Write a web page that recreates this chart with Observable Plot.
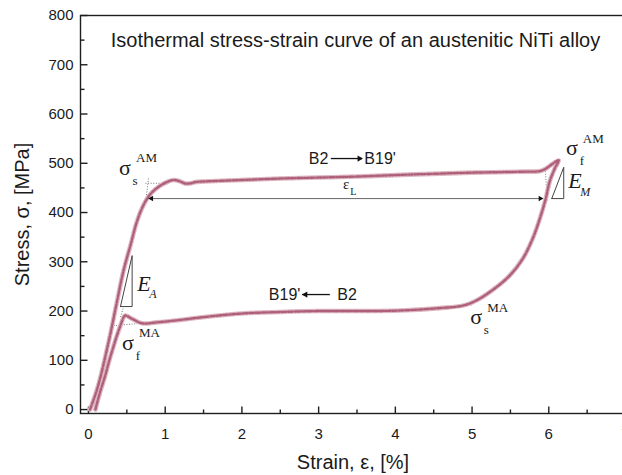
<!DOCTYPE html>
<html><head><meta charset="utf-8">
<script src="https://cdn.jsdelivr.net/npm/d3@7"></script>
<script src="https://cdn.jsdelivr.net/npm/@observablehq/plot@0.6"></script>
<style>
html,body{margin:0;padding:0;background:#fff;overflow:hidden;}
#chart{width:622px;height:475px;overflow:hidden;}
#chart svg{max-width:none !important;width:630px !important;height:475px !important;}
</style></head><body><div id="chart"></div>
<script>
// ---- data ----
const strainLoad = [0.02,0.10,0.16,0.23,0.29,0.37,0.46,0.55,0.63,0.72,0.81,0.94,1.04,1.11,1.18,1.26,1.32,1.40,1.50,2.0,2.5,3.0,3.5,4.0,4.58,5.0,5.36,5.70,5.88,5.96,6.05,6.13];
const stressLoad = [0,35,68,115,157,218,284,335,381,416,438,455,463,466,464,459,459,462,463,466,469,471,473,476,479,481,482,483,484,489,499,506];
const strainUnload = [6.08,6.01,5.96,5.88,5.79,5.66,5.49,5.27,5.05,4.88,4.58,4.06,3.5,3.0,2.5,2.0,1.46,1.20,0.89,0.70,0.57,0.48,0.46,0.42,0.37,0.33,0.27,0.22,0.15,0.09];
const stressUnload = [490,462,428,386,347,306,272,243,221,211,206,201,200,200,198,195,187,182,177,175,184,191,188,172,150,130,99,70,35,0];

const xTicks = [0,1,2,3,4,5,6,7];
const xMinorTicks = [0.5,1.5,2.5,3.5,4.5,5.5,6.5];
const yTicks = [0,100,200,300,400,500,600,700,800];
const yMinorTicks = [50,150,250,350,450,550,650,750];

const titleText = "Isothermal stress-strain curve of an austenitic NiTi alloy";
const xTitle = "Strain, ε, [%]";
const yTitle = "Stress, σ, [MPa]";

// sigma annotations (anchor of σ glyph)
const sigmaX = [0.476, 6.30, 0.515, 5.055];
const sigmaY = [491, 531, 136, 188];
const sigmaSub = ["s","f","f","s"];
const sigmaSup = ["AM","AM","MA","MA"];

// modulus labels
const modX = [0.635, 6.254];
const modY = [256, 464];
const modSub = ["A","M"];
// modulus triangles
const eaTriX = [0.417,0.569,0.569,0.417];
const eaTriY = [209.1,209.1,312.6,209.1];
const emTriX = [6.039,6.195,6.195,6.039];
const emTriY = [428.3,428.3,491.9,428.3];

// transformation labels
const phaseUpY = 509.6;
const phaseDownY = 233.5;
const upLeftText = "B2", upRightText = "B19'";
const upLeftEnd = 3.127, upArrowFrom = 3.166, upArrowTo = 3.57, upRightStart = 3.596;
const downLeftText = "B19'", downRightText = "B2";
const downLeftEnd = 2.762, downArrowFrom = 3.153, downArrowTo = 2.79, downRightStart = 3.244;

// transformation strain arrow
const epsLStrain = [0.782, 5.928];
const epsLStress = 428.3;
const epsLLabelX = 3.36, epsLLabelY = 456.7;

// dotted tangent constructions
const dotX1 = [0.743, 0.782, 5.954, 0.326, 0.42, 4.82];
const dotY1 = [459.4, 469, 489.2, 170.5, 188, 207.7];
const dotX2 = [1.029, 0.743, 5.98, 0.704, 0.45, 5.016];
const dotY2 = [459.4, 418, 424.3, 175.2, 205, 213.2];

// ---- scales ----
const xDomain = [-0.104, 7.0];
const yDomain = [-8, 800];
const W = 630, H = 475, mL = 80, mR = 5, mT = 15, mB = 62;
const pxX = (xDomain[1]-xDomain[0])/(W-mL-mR);
const pxY = (yDomain[1]-yDomain[0])/(H-mT-mB);

// ---- build tables ----
const loop = strainLoad.map((e,i)=>({strain:e, stress:stressLoad[i]}))
  .concat(strainUnload.map((e,i)=>({strain:e, stress:stressUnload[i]})));
const sigmas = sigmaX.map((x,i)=>({x, y:sigmaY[i], sub:sigmaSub[i], sup:sigmaSup[i]}));
const mods = modX.map((x,i)=>({x, y:modY[i], sub:modSub[i]}));
const eaTri = eaTriX.map((x,i)=>({x, y:eaTriY[i]}));
const emTri = emTriX.map((x,i)=>({x, y:emTriY[i]}));
const dots = dotX1.map((x,i)=>({x1:x, y1:dotY1[i], x2:dotX2[i], y2:dotY2[i]}));
// inward tick segments
const xTickSeg = xTicks.map(v=>({v, len:7})).concat(xMinorTicks.map(v=>({v, len:4})));
const yTickSeg = yTicks.map(v=>({v, len:7})).concat(yMinorTicks.map(v=>({v, len:4})));

const serif = "'Liberation Serif', 'Times New Roman', serif";
const sans = "'Liberation Sans', Arial, sans-serif";
const ink = "#1a1a1a";
const axisInk = "#1e1e1e";

const chart = Plot.plot({
  width: W, height: H,
  marginLeft: mL, marginRight: mR, marginTop: mT, marginBottom: mB,
  style: {fontFamily: sans, fontSize: "15px", color: ink, background: "#fff"},
  x: {domain: xDomain},
  y: {domain: yDomain},
  marks: [
    // inward ticks
    Plot.link(xTickSeg, {x1: d=>d.v, x2: d=>d.v, y1: ()=>yDomain[0], y2: d=>yDomain[0] + d.len*pxY, stroke: axisInk, strokeWidth: 1.4}),
    Plot.link(yTickSeg, {y1: d=>d.v, y2: d=>d.v, x1: ()=>xDomain[0], x2: d=>xDomain[0] + d.len*pxX, stroke: axisInk, strokeWidth: 1.4}),
    Plot.frame({stroke: axisInk, strokeWidth: 1.4}),
    Plot.axisX(xTicks, {tickSize: 0, tickPadding: 15, fontSize: 15, fill: ink}),
    Plot.axisY(yTicks, {tickSize: 0, tickPadding: 7, fontSize: 15, fill: ink}),
    Plot.text([xTitle], {frameAnchor: "bottom", dy: 49, textAnchor: "middle", lineAnchor: "middle", fontSize: 20, fill: ink}),
    Plot.text([yTitle], {frameAnchor: "left", dx: -58, rotate: -90, textAnchor: "middle", lineAnchor: "middle", fontSize: 20, fill: ink}),
    Plot.text([titleText], {frameAnchor: "top", dy: 25, dx: 2.5, textAnchor: "middle", lineAnchor: "middle", fontSize: 20, fill: ink}),

    // dotted constructions
    Plot.link(dots, {x1:"x1", y1:"y1", x2:"x2", y2:"y2", stroke: "#777", strokeWidth: 1, strokeDasharray: "1,1.6"}),

    // curve
    Plot.line(loop, {x:"strain", y:"stress", curve:"catmull-rom", stroke:"#ddb6c1", strokeWidth:4.6}),
    Plot.line(loop, {x:"strain", y:"stress", curve:"catmull-rom", stroke:"#a24a67", strokeWidth:2.4, strokeDasharray:"2,1.5,1,2", strokeOpacity:0.8}),

    // triangles
    Plot.line(eaTri, {x:"x", y:"y", stroke:"#444", strokeWidth:1}),
    Plot.line(emTri, {x:"x", y:"y", stroke:"#444", strokeWidth:1}),

    // eps_L double arrow
    Plot.ruleY([epsLStress], {x1: epsLStrain[0], x2: epsLStrain[1], stroke: "#666", strokeWidth: 1}),
    Plot.dot([epsLStrain[0]], {x: d=>d, y: epsLStress, symbol: "triangle2", r: 2.6, rotate: -90, dx: 3, fill: "#111"}),
    Plot.dot([epsLStrain[1]], {x: d=>d, y: epsLStress, symbol: "triangle2", r: 2.6, rotate: 90, dx: -3, fill: "#111"}),
    Plot.text([["ε", epsLLabelX, epsLLabelY]], {x: d=>d[1], y: d=>d[2], text: d=>d[0], fontFamily: serif, fontSize: 15, fill: ink}),
    Plot.text([["L", epsLLabelX, epsLLabelY]], {x: d=>d[1], y: d=>d[2], text: d=>d[0], fontFamily: serif, fontSize: 10, dx: 4, dy: 7, textAnchor: "start", fill: ink}),

    // phase transformation labels
    Plot.text([upLeftText], {x: upLeftEnd, y: phaseUpY, textAnchor: "end", fontSize: 16, fill: ink}),
    Plot.text([upRightText], {x: upRightStart, y: phaseUpY, textAnchor: "start", fontSize: 16, fill: ink}),
    Plot.ruleY([phaseUpY], {x1: upArrowFrom, x2: upArrowTo, stroke: "#111", strokeWidth: 1.3}),
    Plot.dot([upArrowTo], {x: d=>d, y: phaseUpY, symbol: "triangle2", r: 3, rotate: 90, dx: -3, fill: "#111"}),
    Plot.text([downLeftText], {x: downLeftEnd, y: phaseDownY, textAnchor: "end", fontSize: 16, fill: ink}),
    Plot.text([downRightText], {x: downRightStart, y: phaseDownY, textAnchor: "start", fontSize: 16, fill: ink}),
    Plot.ruleY([phaseDownY], {x1: downArrowFrom, x2: downArrowTo, stroke: "#111", strokeWidth: 1.3}),
    Plot.dot([downArrowTo], {x: d=>d, y: phaseDownY, symbol: "triangle2", r: 3, rotate: -90, dx: 3, fill: "#111"}),

    // sigma labels
    Plot.text(sigmas, {x:"x", y:"y", text: ()=>"σ", fontFamily: serif, fontSize: 22, fill: ink}),
    Plot.text(sigmas, {x:"x", y:"y", text:"sub", fontFamily: serif, fontSize: 13, dx: 10, dy: 13, fill: ink}),
    Plot.text(sigmas, {x:"x", y:"y", text:"sup", fontFamily: serif, fontSize: 13, dx: 11, dy: -9.5, textAnchor: "start", fill: ink}),

    // modulus labels
    Plot.text(mods, {x:"x", y:"y", text: ()=>"E", fontFamily: serif, fontStyle: "italic", fontSize: 22, textAnchor: "start", fill: ink}),
    Plot.text(mods, {x:"x", y:"y", text:"sub", fontFamily: serif, fontStyle: "italic", fontSize: 12, dx: 12, dy: 11, textAnchor: "start", fill: ink})
  ]
});
document.getElementById("chart").appendChild(chart);
</script>
</body></html>
